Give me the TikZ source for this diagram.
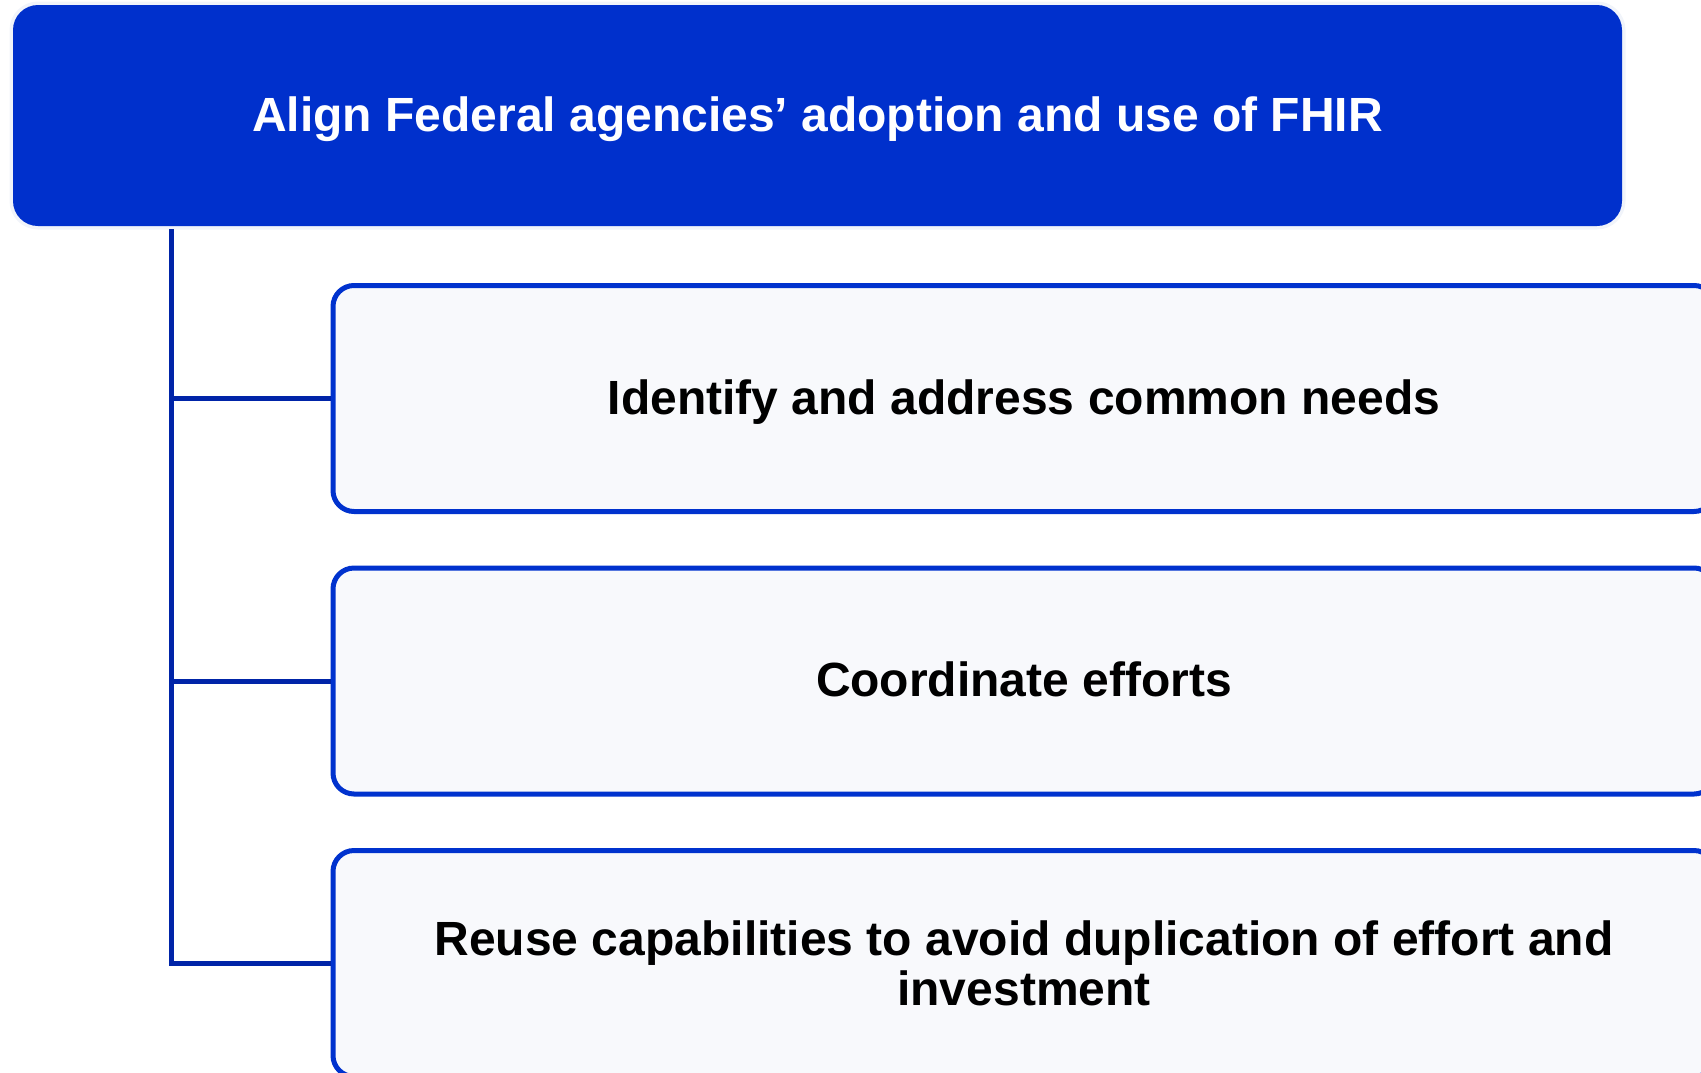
\documentclass[tikz,border=0pt]{standalone}
\usepackage{fontspec}
\setmainfont{Liberation Sans}
\definecolor{topblue}{RGB}{0,48,204}
\definecolor{boxblue}{RGB}{0,50,206}
\definecolor{linkblue}{RGB}{0,36,168}
\definecolor{boxfill}{RGB}{248,249,252}
\definecolor{halo}{RGB}{241,244,250}
\tikzset{
  headbox/.style={rectangle, rounded corners=25pt, fill=topblue, text=white,
    preaction={draw=halo, line width=7pt},
    minimum width=1609pt, minimum height=221pt, inner sep=0pt,
    text height=41pt, text depth=10pt,
    font=\fontsize{48}{50}\selectfont\bfseries},
  itembox/.style={rectangle, rounded corners=21pt, draw=boxblue, line width=5pt,
    fill=boxfill, text=black, align=center,
    minimum width=1382pt, minimum height=226pt, inner sep=0pt,
    font=\fontsize{48}{50}\selectfont\bfseries},
  oneline/.style={text height=41pt, text depth=10pt},
  link/.style={draw=linkblue, line width=5pt}
}
\begin{document}
\begin{tikzpicture}[x=1pt,y=-1pt]
\useasboundingbox (0,0) rectangle (1701,1072);
\node[headbox] (top) at (817.5,115.5) {Align Federal agencies’ adoption and use of FHIR};
\node[itembox, oneline] (c1) at (1024,398.5) {Identify and address common needs};
\node[itembox, oneline] (c2) at (1024,681) {Coordinate efforts};
\node[itembox] (c3) at (1024,963.5) {Reuse capabilities to avoid duplication of effort and\\investment};
\coordinate (trunk) at (171,229);
\draw[link] (trunk) |- (c3.west);
\draw[link] (trunk |- c1.west) -- (c1.west);
\draw[link] (trunk |- c2.west) -- (c2.west);
\end{tikzpicture}
\end{document}
